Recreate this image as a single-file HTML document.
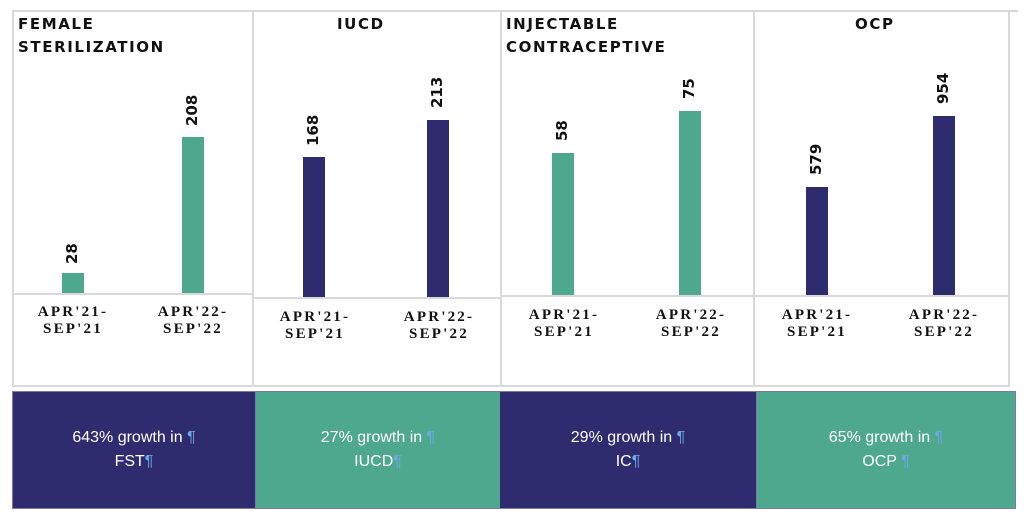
<!DOCTYPE html>
<html><head><meta charset="utf-8"><style>
body{margin:0;width:1024px;height:515px;background:#fff;position:relative;overflow:hidden;font-family:"Liberation Sans",sans-serif}
.a{position:absolute}
.ln{position:absolute;background:#d9d9d9}
.t{position:absolute;font-weight:bold;font-size:15px;letter-spacing:1.6px;color:#111;line-height:23px;font-family:"DejaVu Sans","Liberation Sans",sans-serif}
.bar{position:absolute;width:22px}
.g{background:#4ea88e}.b{background:#2e2b6e}
.v{position:absolute;font-weight:bold;font-size:15px;color:#111;transform:rotate(-90deg);transform-origin:left top;white-space:nowrap;font-family:"DejaVu Sans","Liberation Sans",sans-serif}
.c{position:absolute;width:110px;text-align:center;font-family:"Liberation Serif",serif;font-weight:bold;font-size:15px;letter-spacing:2.2px;line-height:17px;color:#111}
.box{position:absolute;top:392px;height:116px;color:#fff;font-size:16px;text-align:center;line-height:24px;display:flex;align-items:center;justify-content:center;font-family:"Liberation Sans Narrow","Liberation Sans",sans-serif}
.p{color:#6fa8e8}
</style></head><body>
<div class="ln" style="left:12px;top:10px;width:1006px;height:2px"></div>
<div class="ln" style="left:12px;top:10px;width:2px;height:377px"></div>
<div class="ln" style="left:252px;top:10px;width:2px;height:377px"></div>
<div class="ln" style="left:500px;top:10px;width:2px;height:377px"></div>
<div class="ln" style="left:753px;top:10px;width:2px;height:377px"></div>
<div class="ln" style="left:1008px;top:10px;width:2px;height:377px"></div>
<div class="ln" style="left:12px;top:385px;width:998px;height:2px"></div>
<div class="ln" style="left:12px;top:293px;width:240px;height:2px"></div>
<div class="ln" style="left:254px;top:297px;width:246px;height:2px"></div>
<div class="ln" style="left:502px;top:295px;width:251px;height:2px"></div>
<div class="ln" style="left:755px;top:295px;width:253px;height:2px"></div>

<div class="t" style="left:18px;top:13px">FEMALE<br>STERILIZATION</div>
<div class="t" style="left:337px;top:13px">IUCD</div>
<div class="t" style="left:506px;top:13px">INJECTABLE<br>CONTRACEPTIVE</div>
<div class="t" style="left:855px;top:13px">OCP</div>

<div class="bar g" style="left:62px;top:273px;height:20px"></div>
<div class="bar g" style="left:182px;top:137px;height:156px"></div>
<div class="bar b" style="left:303px;top:157px;height:140px"></div>
<div class="bar b" style="left:427px;top:120px;height:177px"></div>
<div class="bar g" style="left:552px;top:153px;height:142px"></div>
<div class="bar g" style="left:679px;top:111px;height:184px"></div>
<div class="bar b" style="left:806px;top:187px;height:108px"></div>
<div class="bar b" style="left:933px;top:116px;height:179px"></div>

<div class="v" style="left:63px;top:264px">28</div>
<div class="v" style="left:183px;top:126px">208</div>
<div class="v" style="left:304px;top:146px">168</div>
<div class="v" style="left:428px;top:108px">213</div>
<div class="v" style="left:553px;top:141px">58</div>
<div class="v" style="left:680px;top:99px">75</div>
<div class="v" style="left:807px;top:175px">579</div>
<div class="v" style="left:934px;top:104px">954</div>

<div class="c" style="left:18px;top:304px">APR'21-<br>SEP'21</div>
<div class="c" style="left:138px;top:304px">APR'22-<br>SEP'22</div>
<div class="c" style="left:260px;top:309px">APR'21-<br>SEP'21</div>
<div class="c" style="left:384px;top:309px">APR'22-<br>SEP'22</div>
<div class="c" style="left:509px;top:307px">APR'21-<br>SEP'21</div>
<div class="c" style="left:636px;top:307px">APR'22-<br>SEP'22</div>
<div class="c" style="left:762px;top:307px">APR'21-<br>SEP'21</div>
<div class="c" style="left:889px;top:307px">APR'22-<br>SEP'22</div>

<div class="a" style="left:12px;top:391px;width:1004px;height:118px;background:#7b7aa8"></div>
<div class="box b" style="left:13px;width:242px"><div>643% growth in <span class="p">¶</span><br>FST<span class="p">¶</span></div></div>
<div class="box g" style="left:256px;width:244px"><div>27% growth in <span class="p">¶</span><br>IUCD<span class="p">¶</span></div></div>
<div class="box b" style="left:500px;width:256px"><div>29% growth in <span class="p">¶</span><br>IC<span class="p">¶</span></div></div>
<div class="box g" style="left:757px;width:258px"><div>65% growth in <span class="p">¶</span><br>OCP <span class="p">¶</span></div></div>
</body></html>
